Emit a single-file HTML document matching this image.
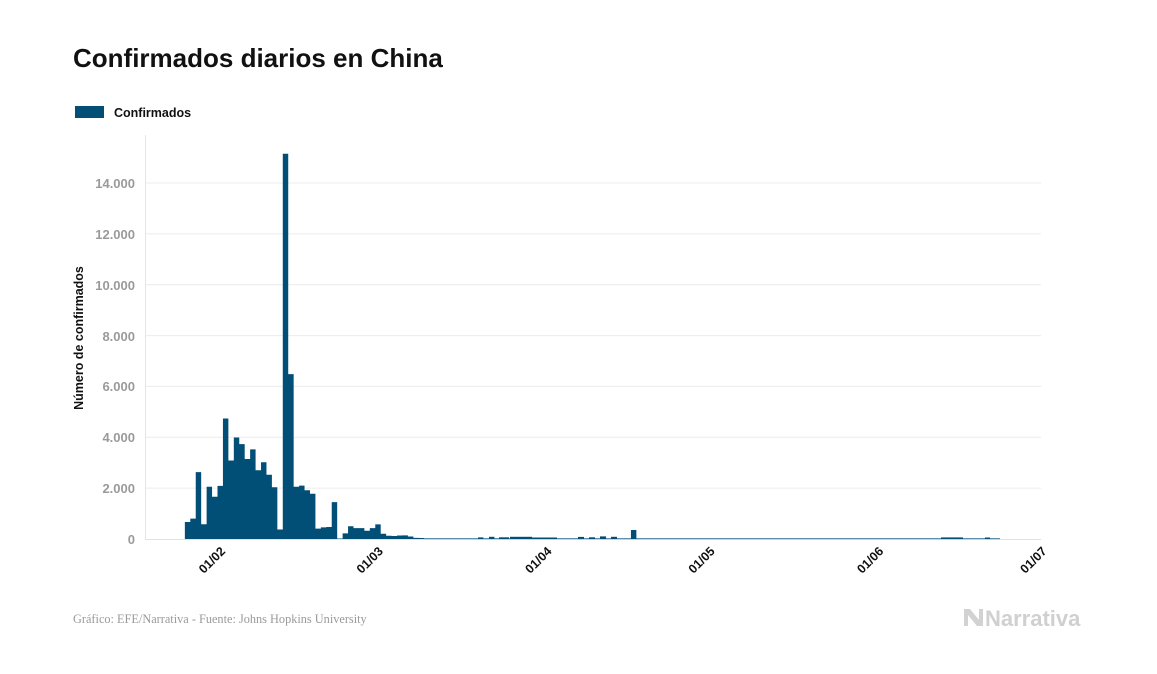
<!DOCTYPE html>
<html><head><meta charset="utf-8"><style>
html,body{margin:0;padding:0;background:#fff;width:1157px;height:674px;overflow:hidden}
</style></head><body>
<svg width="1157" height="674" viewBox="0 0 1157 674" xmlns="http://www.w3.org/2000/svg" font-family="Liberation Sans, sans-serif">
<text x="73" y="67" font-size="26" font-weight="bold" fill="#111">Confirmados diarios en China</text>
<rect x="75" y="106" width="29" height="12" fill="#014f77"/>
<text x="114" y="117" font-size="12.5" font-weight="bold" fill="#111">Confirmados</text>
<g stroke="#ececec" stroke-width="1">
<line x1="146" x2="1041" y1="488.1" y2="488.1"/>
<line x1="146" x2="1041" y1="437.3" y2="437.3"/>
<line x1="146" x2="1041" y1="386.4" y2="386.4"/>
<line x1="146" x2="1041" y1="335.6" y2="335.6"/>
<line x1="146" x2="1041" y1="284.7" y2="284.7"/>
<line x1="146" x2="1041" y1="233.9" y2="233.9"/>
<line x1="146" x2="1041" y1="183.0" y2="183.0"/>
</g>
<line x1="145.5" y1="135" x2="145.5" y2="540" stroke="#e6e6e6"/>
<g font-size="13" font-weight="bold" fill="#9a9a9a" text-anchor="end">
<text x="135" y="544">0</text>
<text x="135" y="493">2.000</text>
<text x="135" y="442">4.000</text>
<text x="135" y="391">6.000</text>
<text x="135" y="341">8.000</text>
<text x="135" y="290">10.000</text>
<text x="135" y="239">12.000</text>
<text x="135" y="188">14.000</text>
</g>
<text transform="translate(83,338) rotate(-90)" text-anchor="middle" font-size="12.5" font-weight="bold" fill="#111">Número de confirmados</text>
<line x1="145" y1="539.5" x2="1041" y2="539.5" stroke="#dde3e8"/>
<path fill="#014f77" d="M184.86 539 V522.0 H190.30 V518.6 H195.74 V472.1 H201.18 V524.3 H206.62 V486.8 H212.06 V496.8 H217.50 V485.9 H222.94 V418.5 H228.38 V460.5 H233.82 V437.5 H239.26 V444.1 H244.70 V459.0 H250.14 V449.4 H255.58 V470.2 H261.02 V462.3 H266.46 V474.8 H271.90 V487.3 H277.34 V529.5 H282.78 V153.7 H288.22 V374.1 H293.66 V486.7 H299.10 V485.6 H304.54 V490.2 H309.98 V493.8 H315.42 V528.6 H320.86 V527.4 H326.30 V527.0 H331.74 V502.1 H337.18 V538.5 H342.62 V533.4 H348.06 V526.3 H353.50 V528.1 H364.38 V530.7 H369.82 V528.1 H375.26 V524.4 H380.70 V533.8 H386.14 V535.8 H391.58 V536.0 H397.02 V535.5 H402.46 V535.4 H407.90 V536.5 H413.34 V537.9 H418.78 V538.0 H424.22 V539 Z"/>
<rect x="424" y="538" width="576" height="1.2" fill="#5f8fae"/>
<g fill="#014f77">
<rect x="478" y="537.4" width="5.4" height="1.6"/>
<rect x="489" y="536.8" width="5.4" height="2.2"/>
<rect x="499" y="537.3" width="10" height="1.7"/>
<rect x="510" y="536.8" width="22" height="2.2"/>
<rect x="532" y="537.5" width="25" height="1.5"/>
<rect x="578" y="536.9" width="6" height="2.1"/>
<rect x="589" y="537.3" width="6" height="1.7"/>
<rect x="600" y="536.4" width="6" height="2.6"/>
<rect x="611" y="536.8" width="6" height="2.2"/>
<rect x="630.94" y="530.0" width="5.44" height="9"/>
<rect x="941" y="537.4" width="22" height="1.6"/>
<rect x="985" y="537.5" width="5" height="1.5"/>
</g>
<g font-size="12.5" font-weight="bold" fill="#111" text-anchor="end">
<text transform="translate(226,552) rotate(-45)">01/02</text>
<text transform="translate(383.8,552) rotate(-45)">01/03</text>
<text transform="translate(552.4,552) rotate(-45)">01/04</text>
<text transform="translate(715.6,552) rotate(-45)">01/05</text>
<text transform="translate(884.2,552) rotate(-45)">01/06</text>
<text transform="translate(1047.4,552) rotate(-45)">01/07</text>
</g>
<text x="73" y="623" font-family="Liberation Serif, serif" font-size="12.3" fill="#9a9a9a">Gráfico: EFE/Narrativa - Fuente: Johns Hopkins University</text>
<polygon fill="#d2d2d2" points="964,609 970,609 979,620 979,609 983,609 983,626 977,626 968,615 968,626 964,626"/>
<text x="985" y="626" font-size="22" font-weight="bold" fill="#d0d0d0">Narrativa</text>
</svg>
</body></html>
